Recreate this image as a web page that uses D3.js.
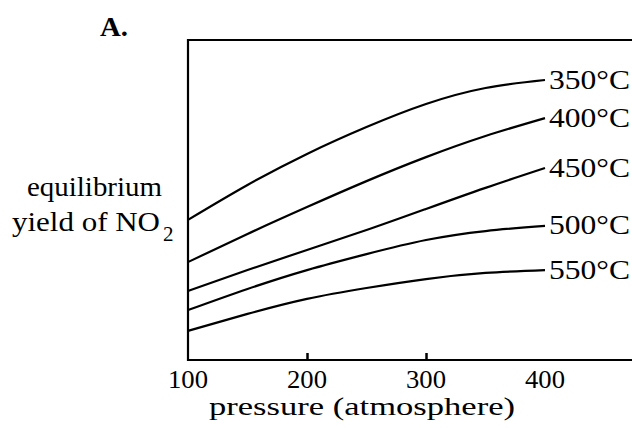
<!DOCTYPE html>
<html>
<head>
    <meta charset="utf-8">
    <title>equilibrium yield of NO2</title>
    <script type="text/javascript" src="https://cdn.jsdelivr.net/npm/d3@7"></script>
    <style type="text/css">
        html, body { margin: 0; padding: 0; background: #fff; }
        svg text { font-family: "Liberation Serif", "Times New Roman", serif; fill: #000; }
    </style>
</head>
<body>
<div id="app"></div>

<script type="text/javascript">
    // pressure values (atm) the curves are sampled at
    var pressure = [100, 150, 200, 250, 300, 350, 400];

    // yield, arbitrary units (0 = bottom of box, 100 = top)
    var y350 = [43.8, 54.7, 64.4, 72.8, 80.0, 85.0, 87.5];
    var y400 = [30.6, 39.4, 47.8, 55.9, 63.4, 70.0, 75.6];
    var y450 = [21.6, 28.1, 34.4, 40.6, 47.2, 53.8, 60.0];
    var y500 = [15.6, 22.2, 28.1, 33.1, 37.5, 40.3, 41.9];
    var y550 = [9.1, 14.4, 19.1, 22.5, 25.3, 27.2, 28.1];

    var seriesNames = ['350°C', '400°C', '450°C', '500°C', '550°C'];
    var seriesValues = [y350, y400, y450, y500, y550];

    var tickLabels = [100, 200, 300, 400];
    var tickMarks = [200, 300];

    !function () {
        const w = 632, h = 428;
        const svg = d3.select('#app').append('svg').attr('width', w).attr('height', h);

        const left = 188, top = 40, bottom = 360;

        const x = d3.scaleLinear().domain([100, 400]).range([left, 545]);
        const y = d3.scaleLinear().domain([0, 100]).range([bottom, top]);

        // box (right edge runs past the window)
        svg.append('path')
            .attr('d', 'M' + (w + 10) + ',' + top + 'H' + left + 'V' + bottom + 'H' + (w + 10))
            .attr('fill', 'none')
            .attr('stroke', '#000')
            .attr('stroke-width', 2.2);

        // small inner ticks
        svg.append('g')
            .attr('transform', 'translate(0,' + bottom + ')')
            .call(d3.axisBottom(x).tickValues(tickMarks).tickSize(-7).tickFormat(''))
            .call(function (g) {
                g.select('.domain').remove();
                g.selectAll('line').attr('stroke', '#000').attr('stroke-width', 2.5);
            });

        // tick labels
        svg.append('g')
            .selectAll('text')
            .data(tickLabels)
            .enter()
            .append('text')
            .attr('x', function (d) { return x(d); })
            .attr('y', 388)
            .attr('text-anchor', 'middle')
            .attr('textLength', 40)
            .attr('lengthAdjust', 'spacingAndGlyphs')
            .style('font-size', '26px')
            .text(function (d) { return d; });

        svg.append('text')
            .attr('x', 362)
            .attr('y', 415)
            .attr('text-anchor', 'middle')
            .attr('textLength', 306)
            .attr('lengthAdjust', 'spacingAndGlyphs')
            .style('font-size', '25px')
            .text('pressure (atmosphere)');

        // y label
        svg.append('text')
            .attr('x', 27)
            .attr('y', 196)
            .attr('textLength', 135)
            .attr('lengthAdjust', 'spacingAndGlyphs')
            .style('font-size', '27px')
            .text('equilibrium');

        svg.append('text')
            .attr('x', 12)
            .attr('y', 231)
            .attr('textLength', 148)
            .attr('lengthAdjust', 'spacingAndGlyphs')
            .style('font-size', '27px')
            .text('yield of NO');

        svg.append('text')
            .attr('x', 163)
            .attr('y', 241)
            .style('font-size', '21px')
            .text('2');

        svg.append('text')
            .attr('x', 100)
            .attr('y', 36)
            .attr('textLength', 28)
            .attr('lengthAdjust', 'spacingAndGlyphs')
            .style('font-size', '27px')
            .style('font-weight', 'bold')
            .text('A.');

        // curves
        const line = d3.line()
            .x(function (d, i) { return x(pressure[i]); })
            .y(function (d) { return y(d); })
            .curve(d3.curveNatural);

        svg.selectAll('path.curve')
            .data(seriesValues)
            .enter()
            .append('path')
            .attr('class', 'curve')
            .attr('d', line)
            .attr('fill', 'none')
            .attr('stroke', '#000')
            .attr('stroke-width', 2.2);

        svg.selectAll('text.lbl')
            .data(seriesValues)
            .enter()
            .append('text')
            .attr('class', 'lbl')
            .attr('x', x(400) + 4)
            .attr('y', function (d) { return y(d[d.length - 1]) + 8.5; })
            .attr('textLength', 81)
            .attr('lengthAdjust', 'spacingAndGlyphs')
            .style('font-size', '27px')
            .text(function (d, i) { return seriesNames[i]; });
    }();
</script>
</body>
</html>
